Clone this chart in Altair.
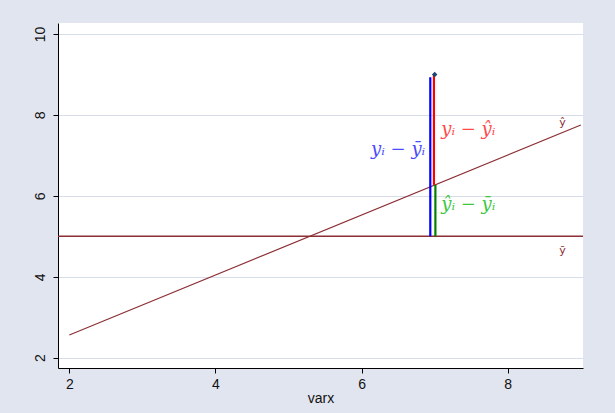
import altair as alt
import pandas as pd

# Fitted regression line endpoints (varx, fitted y)
fit_x = [2.0, 9.0]
fit_y = [2.56, 7.75]

# Sample mean of y
y_mean = 5.0

# The highlighted observation
obs_x = [7.0]
obs_y = [9.0]
obs_fit = 6.27  # fitted value at the observation

# Deviation segments: name, x, y start, y end, colour
seg_name = ["total", "residual", "explained"]
seg_x = [6.94, 6.99, 7.01]
seg_y0 = [5.0, 6.27, 5.0]
seg_y1 = [8.93, 9.0, 6.27]
seg_color = ["#0000ff", "#ff0000", "#008000"]

# Formula labels next to the segments
lab_text = ["yᵢ − ȳᵢ", "yᵢ − ŷᵢ", "ŷᵢ − ȳᵢ"]
lab_x = [6.87, 7.09, 7.09]
lab_y = [7.13, 7.63, 5.77]
lab_align = ["right", "left", "left"]
lab_color = ["#4a4aff", "#ff4a4a", "#3cc83c"]

# Small line labels at the right edge
line_lab_text = ["ŷ", "ȳ"]
line_lab_x = [8.75, 8.75]
line_lab_y = [7.8, 4.64]

X_DOMAIN = [1.845, 9.03]
Y_DOMAIN = [1.745, 10.27]
LINE_COLOR = "#8b2f35"

xs = alt.Scale(domain=X_DOMAIN, nice=False, zero=False)
ys = alt.Scale(domain=Y_DOMAIN, nice=False, zero=False)

x_axis = alt.Axis(values=[2, 4, 6, 8], grid=False, title="varx", format="d",
                  domainColor="black", tickColor="black", tickSize=5,
                  labelFont="Liberation Sans", labelFontSize=14, labelColor="#111",
                  labelPadding=4, titleFont="Liberation Sans", titleFontSize=14,
                  titleFontWeight="normal", titleColor="#111", titlePadding=0)
y_axis = alt.Axis(values=[2, 4, 6, 8, 10], grid=True, gridColor="#d6dce8", title=None,
                  format="d", domainColor="black", tickColor="black", tickSize=5,
                  labelAngle=270, labelAlign="center", labelBaseline="bottom",
                  labelFont="Liberation Sans", labelFontSize=14, labelColor="#111",
                  labelPadding=6)

fit_df = pd.DataFrame({"x": fit_x, "y": fit_y})
seg_df = pd.DataFrame({"name": seg_name, "x": seg_x, "y0": seg_y0, "y1": seg_y1,
                       "color": seg_color})
obs_df = pd.DataFrame({"x": obs_x, "y": obs_y})
lab_df = pd.DataFrame({"t": lab_text, "x": lab_x, "y": lab_y, "c": lab_color,
                       "a": lab_align})
line_lab_df = pd.DataFrame({"t": line_lab_text, "x": line_lab_x, "y": line_lab_y})
mean_df = pd.DataFrame({"y": [y_mean]})

axes = alt.Chart(fit_df).mark_point(opacity=0).encode(
    x=alt.X("x:Q", scale=xs, axis=x_axis),
    y=alt.Y("y:Q", scale=ys, axis=y_axis),
)

mean_line = alt.Chart(mean_df).mark_rule(color=LINE_COLOR, strokeWidth=1.3).encode(
    y=alt.Y("y:Q", scale=ys)
)

fit_line = alt.Chart(fit_df).mark_line(color=LINE_COLOR, strokeWidth=1.2).encode(
    x=alt.X("x:Q", scale=xs), y=alt.Y("y:Q", scale=ys)
)

segments = alt.Chart(seg_df).mark_rule(strokeWidth=2.2).encode(
    x=alt.X("x:Q", scale=xs),
    y=alt.Y("y0:Q", scale=ys),
    y2="y1:Q",
    color=alt.Color("color:N", scale=None),
)

point = alt.Chart(obs_df).mark_point(shape="diamond", filled=True, color="#1a476f",
                                     size=30, opacity=1).encode(
    x=alt.X("x:Q", scale=xs), y=alt.Y("y:Q", scale=ys)
)

def formula(i):
    return alt.Chart(lab_df.iloc[[i]]).mark_text(
        font="DejaVu Serif", fontStyle="italic", fontSize=18, align=lab_align[i],
        baseline="middle", color=lab_color[i]
    ).encode(x=alt.X("x:Q", scale=xs), y=alt.Y("y:Q", scale=ys), text="t:N")

line_labels = alt.Chart(line_lab_df).mark_text(
    font="DejaVu Sans", fontSize=11, color=LINE_COLOR, align="center", baseline="middle"
).encode(x=alt.X("x:Q", scale=xs), y=alt.Y("y:Q", scale=ys), text="t:N")

chart = alt.layer(
    axes, mean_line, fit_line, segments, point,
    formula(0), formula(1), formula(2), line_labels
).properties(
    width=525, height=345,
    padding={"left": 58, "top": 23, "right": 32, "bottom": 45},
    autosize="none",
    background="#e1e5ef",
).configure_view(fill="white", stroke=None)

chart.save("out.html", embed_options={"renderer": "svg", "actions": False})
